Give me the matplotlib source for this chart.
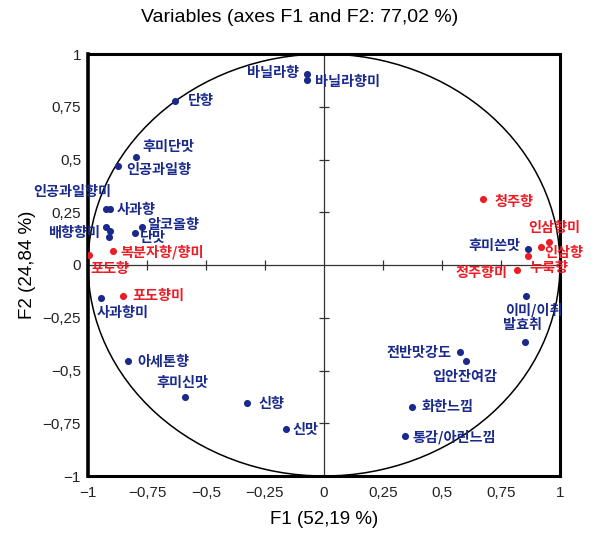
import matplotlib
matplotlib.use("Agg")
import matplotlib.pyplot as plt
from matplotlib.patches import Circle
from matplotlib.ticker import FuncFormatter

plt.rcParams['font.family'] = ['Noto Sans CJK KR', 'DejaVu Sans']

# ---- data ----
names = ['바닐라향', '바닐라향미', '단향', '후미단맛', '인공과일향', '인공과일향미', '사과향',
         '배향향미', '', '', '알코올향', '단맛', '사과향미', '아세톤향', '후미신맛', '신향', '신맛',
         '후미쓴맛', '이미/이취', '발효취', '전반맛강도', '입안잔여감', '화한느낌', '통감/아린느낌',
         '복분자향/향미', '포도향', '포도향미', '청주향', '인삼향미', '인삼향', '누룩향', '청주향미']
f1 = [-0.073, -0.073, -0.631, -0.797, -0.873, -0.924, -0.907,
      -0.924, -0.907, -0.911, -0.771, -0.801, -0.945, -0.831, -0.589, -0.326, -0.161,
      0.864, 0.856, 0.852, 0.576, 0.602, 0.373, 0.343,
      -0.894, -0.996, -0.852, 0.674, 0.953, 0.919, 0.864, 0.818]
f2 = [0.905, 0.877, 0.777, 0.512, 0.469, 0.265, 0.265,
      0.180, 0.161, 0.133, 0.180, 0.152, -0.156, -0.455, -0.626, -0.654, -0.777,
      0.076, -0.147, -0.365, -0.412, -0.455, -0.673, -0.810,
      0.066, 0.047, -0.147, 0.313, 0.109, 0.085, 0.043, -0.024]
group = ['b'] * 24 + ['r'] * 8

ticks = [-1, -0.75, -0.5, -0.25, 0, 0.25, 0.5, 0.75, 1]
title = 'Variables (axes F1 and F2: 77,02 %)'
xlabel = 'F1 (52,19 %)'
ylabel = 'F2 (24,84 %)'

# ---- label placement (offset pixels, ha) ----
offsets = {
    '바닐라향': (-8, 1, 'right'), '바닐라향미': (8, -2, 'left'), '단향': (13, 0, 'left'),
    '후미단맛': (6, 10, 'left'), '인공과일향': (8, -4, 'left'), '인공과일향미': (5, 17, 'right'),
    '사과향': (7, -1, 'left'), '배향향미': (-6, -6, 'right'), '알코올향': (5, 2, 'left'),
    '단맛': (5, -5, 'left'), '사과향미': (-4, -15, 'left'), '아세톤향': (9, -1, 'left'),
    '후미신맛': (-3, 14, 'center'), '신향': (11, -1, 'left'), '신맛': (6, -1, 'left'),
    '후미쓴맛': (-8, 3, 'right'), '이미/이취': (8, -14, 'center'), '발효취': (-3, 17, 'center'),
    '전반맛강도': (-8, -1, 'right'), '입안잔여감': (-1, -16, 'center'), '화한느낌': (10, 0, 'left'),
    '통감/아린느낌': (8, -1, 'left'), '복분자향/향미': (7, -1, 'left'), '포도향': (1, -14, 'left'),
    '포도향미': (9, 0, 'left'), '청주향': (11, -3, 'left'), '인삼향미': (5, 14, 'center'),
    '인삼향': (3, -6, 'left'), '누룩향': (1, -12, 'left'), '청주향미': (-10, -3, 'right'),
}
colors = {'b': '#1a2a8c', 'r': '#ec1c24'}

fig = plt.figure(figsize=(6.0, 5.42), dpi=100)
ax = fig.add_axes([88 / 600, 1 - 476 / 542, 472 / 600, 422 / 542])
ax.set_xlim(-1, 1)
ax.set_ylim(-1, 1)

ax.add_patch(Circle((0, 0), 1, fill=False, ec='black', lw=1.1, zorder=1))
ax.axhline(0, color='#333333', lw=0.9, zorder=1)
ax.axvline(0, color='#333333', lw=0.9, zorder=1)
inner = [t for t in ticks if t not in (-1, 0, 1)]
ax.plot(inner, [0] * len(inner), ls='none', marker='|', ms=7, mew=0.9, color='#333333', zorder=1)
ax.plot([0] * len(inner), inner, ls='none', marker='_', ms=7, mew=0.9, color='#333333', zorder=1)

for n, x, y, g in zip(names, f1, f2, group):
    c = colors[g]
    ax.scatter([x], [y], s=26, color=c, zorder=3, linewidths=0)
    if n:
        dx, dy, ha = offsets[n]
        ax.annotate(n, (x, y), xytext=(dx, dy), textcoords='offset pixels',
                    ha=ha, va='center', color=c, fontsize=10.2, fontweight='bold', zorder=4)

for s in ax.spines.values():
    s.set_linewidth(2.2)
ax.spines['left'].set_linewidth(2.6)

fmt = FuncFormatter(lambda v, p: ('%g' % v).replace('.', ',').replace('-', '\u2212'))
ax.set_xticks(ticks)
ax.set_yticks(ticks)
ax.xaxis.set_major_formatter(fmt)
ax.yaxis.set_major_formatter(fmt)
tickfont = ['Liberation Sans Narrow', 'Liberation Sans', 'DejaVu Sans']
ax.tick_params(length=0, labelsize=11, pad=7)
ax.tick_params(axis='y', pad=5)
for lab in ax.get_xticklabels() + ax.get_yticklabels():
    lab.set_family(tickfont)
    lab.set_color('#222222')

ax.set_xlabel(xlabel, fontsize=13.5, family=['Liberation Sans', 'DejaVu Sans'], labelpad=8)
ax.set_ylabel(ylabel, fontsize=13.5, family=['Liberation Sans', 'DejaVu Sans'], labelpad=5)
fig.text(0.5, 1 - 18 / 542, title, ha='center', va='center', fontsize=14,
         family=['Liberation Sans', 'DejaVu Sans'])

fig.savefig('out.png', dpi=100)
